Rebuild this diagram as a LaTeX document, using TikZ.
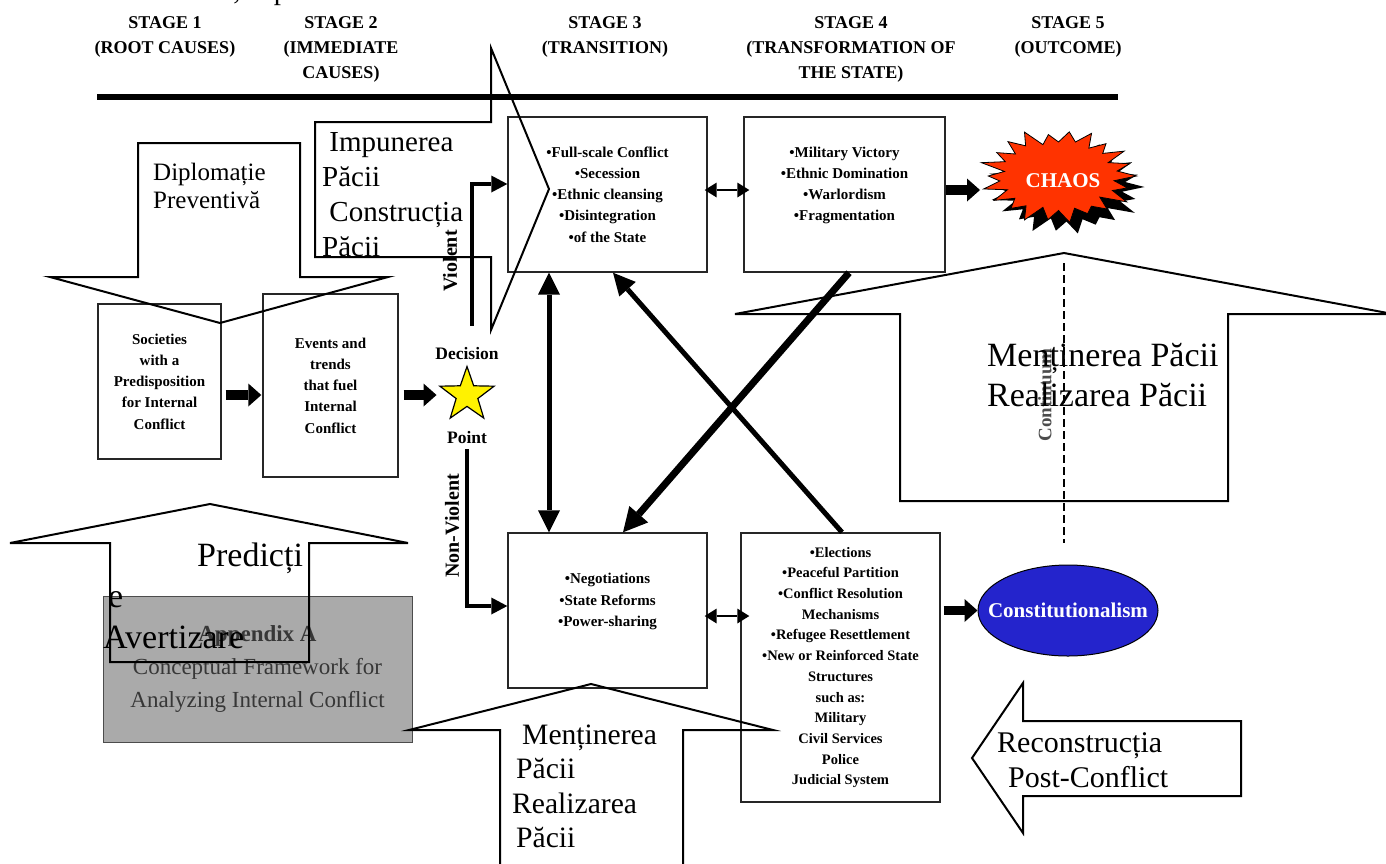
\documentclass[tikz,border=0pt]{standalone}
\usepackage{fontspec}
\setmainfont{Liberation Serif}
\usepackage{xcolor}
\usepackage{tikz}
\usetikzlibrary{calc}
\usetikzlibrary{arrows.meta}
\usetikzlibrary{shapes}
\usetikzlibrary{positioning}
\usetikzlibrary{shapes.geometric}
\usetikzlibrary{shadows}

\definecolor{chaosred}{RGB}{255,51,0}
\definecolor{constblue}{RGB}{36,36,204}
\definecolor{appxgray}{RGB}{170,170,170}
\definecolor{appxtext}{RGB}{55,55,55}

\newcommand{\stagefont}{\fontsize{18}{25}\selectfont\bfseries}
\newcommand{\boxfont}{\fontsize{15}{21.2}\selectfont\bfseries}
\newcommand{\elecfont}{\fontsize{14.5}{20.7}\selectfont\bfseries}
\newcommand{\labfont}{\fontsize{17.5}{20}\selectfont\bfseries}
\newcommand{\sidefont}{\fontsize{20}{24}\selectfont\bfseries}
\newcommand{\contfont}{\fontsize{19}{22}\selectfont\bfseries}
\newcommand{\chaosfont}{\fontsize{21}{24}\selectfont\bfseries}
\newcommand{\romfont}[2]{\fontsize{#1}{#2}\selectfont}

\tikzset{>=latex}
\tikzstyle{stage} = [draw=none, inner sep=0, align=center, font=\stagefont, anchor=north]
\tikzstyle{bx} = [rectangle, draw=black!85, line width=1.4pt, align=center, font=\boxfont]
\tikzstyle{lab} = [draw=none, inner sep=0, font=\labfont]
\tikzstyle{rom} = [draw=none, inner sep=0, align=left, anchor=west]
\tikzstyle{bigarr} = [draw=black, line width=2pt]
\tikzstyle{blk} = [line width=9.5pt, -{Triangle[length=13pt, width=23pt, line width=0pt]}]
\tikzstyle{vio} = [line width=4.5pt, -{Triangle[length=16pt, width=17pt, line width=0pt]}]
\tikzstyle{dbl} = [line width=2.5pt, {Triangle[length=12pt, width=15pt, line width=0pt]}-{Triangle[length=12pt, width=15pt, line width=0pt]}]
\tikzstyle{heavy} = [line width=5pt, -{Triangle[length=22pt, width=22pt, line width=0pt]}]
\tikzstyle{burst} = [draw=black, line width=0.8pt, fill=chaosred, drop shadow={fill=black, opacity=1, shadow xshift=8pt, shadow yshift=-11pt}]

\begin{document}
\begin{tikzpicture}[x=1pt, y=-1pt]
\useasboundingbox (0, 0) rectangle (1386, 863);

% cut-off line at the top
\node [draw=none, inner sep=0, anchor=base, font=\romfont{29}{35}] (cuta) at (237, -1) {,};
\node [draw=none, inner sep=0, anchor=base, font=\romfont{29}{35}] (cutb) at (281, -1) {p};

\node [stage] (st1) at (165, 16) {STAGE 1\\(ROOT CAUSES)};
\node [stage] (st2) at (341, 16) {STAGE 2\\(IMMEDIATE\\CAUSES)};
\node [stage] (st3) at (605, 16) {STAGE 3\\(TRANSITION)};
\node [stage] (st4) at (851, 16) {STAGE 4\\(TRANSFORMATION OF\\THE STATE)};
\node [stage] (st5) at (1068, 16) {STAGE 5\\(OUTCOME)};
\draw [line width=6pt] (97, 97) -- (1118, 97);

\node [rectangle, draw=black!70, line width=1pt, fill=appxgray, minimum width=309pt, minimum height=146pt, align=center, text=appxtext, font=\romfont{23}{33}] (appx) at (257.5, 669) {\textbf{Appendix A}\\Conceptual Framework for\\Analyzing Internal Conflict};

\node [bx, minimum width=123pt, minimum height=155pt] (soc) at (159.5, 381.5) {Societies\\with a\\Predisposition\\for Internal\\Conflict};
\node [bx, minimum width=135pt, minimum height=183pt] (evt) at (330.5, 385.5) {Events and\\trends\\that fuel\\Internal\\Conflict};
\node [bx, minimum width=199pt, minimum height=155pt] (trans) at (607.5, 194.5) {•Full-scale Conflict\\•Secession\\•Ethnic cleansing\\•Disintegration\\•of the State};
\node [bx, minimum width=201pt, minimum height=155pt] (trnsf) at (844.5, 194.5) {•Military Victory\\•Ethnic Domination\\•Warlordism\\•Fragmentation\\\mbox{}};
\node [bx, minimum width=199pt, minimum height=155pt] (negot) at (607.5, 610.5) {•Negotiations\\•State Reforms\\•Power-sharing\\\mbox{}};
\node [bx, font=\elecfont, minimum width=199pt, minimum height=269pt] (elect) at (840.5, 667.5) {•Elections\\•Peaceful Partition\\•Conflict Resolution\\Mechanisms\\•Refugee Resettlement\\•New or Reinforced State\\Structures\\such as:\\Military\\Civil Services\\Police\\Judicial System};

\node [star, star points=5, star point ratio=2.5, minimum size=57pt, inner sep=0, draw=black, line width=1.2pt, fill=yellow] (dp) at (467, 395) {};
\node [lab] (dec) at (467, 354) {Decision};
\node [lab] (pt) at (467, 438) {Point};
\node [lab, rotate=90, font=\sidefont] (vl) at (450, 261) {Violent};
\node [lab, rotate=90, font=\sidefont] (nvl) at (452, 526) {Non-Violent};

% the burst behind CHAOS
\begin{scope}[shift={(1058.5, 176)}]
\draw [burst] (0:78 and 46) \foreach \r [count=\i] in {0.72, 0.92, 0.76, 1.04, 0.7, 0.95, 0.78, 0.9, 0.73, 1.02, 0.75, 0.96, 0.71, 1.05, 0.77, 0.93, 0.74, 0.98, 0.72, 1.0, 0.76, 0.9, 0.7, 1.03, 0.75, 0.94, 0.73, 0.99, 0.78, 1.05, 0.71, 0.91, 0.74, 0.97, 0.77, 1.02, 0.72, 0.93, 0.75, 1.0, 0.7, 0.95, 0.76} { -- ({\i*360/44}:{78*\r} and {46*\r}) } -- cycle;
\end{scope}
\node [draw=none, inner sep=0, text=white, font=\chaosfont] (chaos) at (1063, 181) {CHAOS};
\coordinate (chaosw) at (980, 190);
\node [ellipse, draw=black, line width=1pt, fill=constblue, text=white, font=\chaosfont, minimum width=180pt, minimum height=91pt, inner xsep=-18pt, inner ysep=0] (const) at (1068, 610.5) {Constitutionalism};

\draw [blk, shorten <=4pt, shorten >=1pt] (soc.east |- dp) -- (evt.west |- dp);
\draw [blk, shorten <=5pt, shorten >=14pt] (evt.east |- dp) -- (dp.west);
\draw [vio] ($(dec.north)+(5, -22)$) |- ($(trans.west)+(0, -10.5)$);
\draw [vio] ($(pt.south)+(0, 5)$) |- ($(negot.west)+(0, -4.5)$);
\draw [dbl, shorten <=-3pt, shorten >=-6pt] ($(trans.east)+(0, -4.5)$) -- ($(trnsf.west)+(0, -4.5)$);
\draw [blk] ($(trnsf.east)+(0, -4.5)$) -- (chaosw);
\draw [dbl, shorten <=-3pt, shorten >=-9pt] ($(negot.east)+(0, 5.5)$) -- ($(negot.east -| elect.west)+(0, 5.5)$);
\draw [blk, shorten <=3pt] (elect.east |- const) -- (const.west);
\draw [heavy, {Triangle[length=22pt, width=22pt, line width=0pt]}-{Triangle[length=22pt, width=22pt, line width=0pt]}] ($(trans.south)+(-58.5, 0)$) -- ($(negot.north)+(-58.5, 0)$);
\draw [heavy] ($(elect.north)+(1.5, 0)$) -- ($(trans.south)+(5.5, 0)$);
\draw [heavy, line width=7pt, -{Triangle[length=24pt, width=25pt, line width=0pt]}] ($(trnsf.south)+(4.5, 0)$) -- ($(negot.north)+(15.5, 0)$);

% block arrows with the Romanian labels
\draw [bigarr] (138, 143) -- (300, 143) -- (300, 277) -- (388, 277) -- (220, 323) -- (50, 277) -- (138, 277) -- cycle;
\draw [bigarr] (315, 122) -- (491, 122) -- (491, 48) -- (549, 189) -- (491, 330) -- (491, 257) -- (315, 257) -- cycle;
\draw [bigarr] (900, 501) -- (900, 314) -- (735, 314) -- (1064, 253) -- (1393, 314) -- (1228, 314) -- (1228, 501) -- cycle;
\draw [bigarr] (110, 662) -- (110, 543) -- (10, 543) -- (210, 504) -- (408, 543) -- (309, 543) -- (309, 662) -- cycle;
\draw [bigarr] (500, 880) -- (500, 730) -- (409, 730) -- (591, 684) -- (773, 730) -- (683, 730) -- (683, 880);
\draw [bigarr] (972, 758) -- (1023, 683) -- (1023, 721) -- (1241, 721) -- (1241, 796) -- (1023, 796) -- (1023, 833) -- cycle;

\node [lab, rotate=90, font=\contfont, text=black!70] (cont) at (1045, 395) {Continuum};

\node [rom, font=\romfont{25}{28}] (dipl) at (153, 186) {Diplomație\\Preventivă};
\node [rom, font=\romfont{29}{35}] (impn) at (322, 195) {~Impunerea\\Păcii\\~Construcția\\Păcii};
\node [rom, font=\romfont{34}{40}] (mentr) at (987, 375) {Menținerea Păcii\\Realizarea Păcii};
\node [rom, font=\romfont{34}{41}] (pred) at (103, 596) {\hspace*{94pt}Predicți\\\hspace*{5pt}e\\Avertizare};
\node [rom, font=\romfont{29.6}{34.5}] (mentb) at (512, 786.5) {\hspace*{10pt}Menținerea\\\hspace*{4pt}Păcii\\Realizarea\\\hspace*{4pt}Păcii};
\node [rom, font=\romfont{30}{35}] (recon) at (997, 760.5) {Reconstrucția\\\hspace*{11pt}Post-Conflict};

\coordinate (ctop) at (1064, 263);
\draw [line width=2pt, dash pattern=on 8pt off 4pt] (ctop) -- ($(const.north)+(-4, -22)$);
\end{tikzpicture}
\end{document}
